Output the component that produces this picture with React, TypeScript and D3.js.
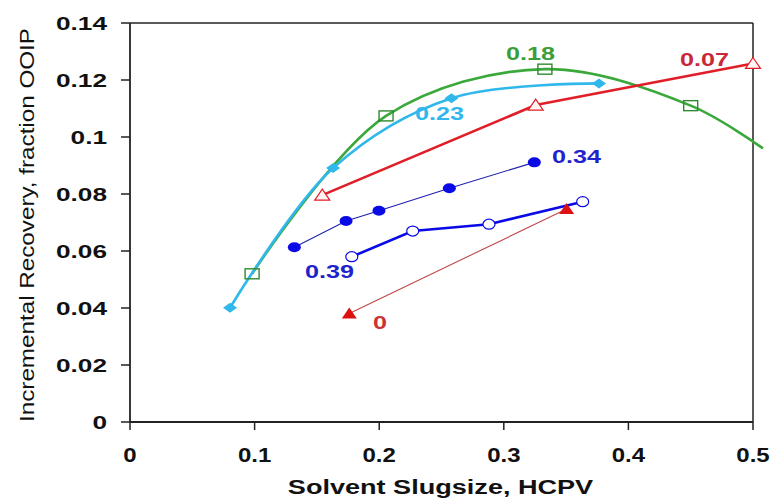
import React from "react";
import * as d3 from "d3";

const xTicks = [0, 0.1, 0.2, 0.3, 0.4, 0.5];
const xTickLabels = ["0", "0.1", "0.2", "0.3", "0.4", "0.5"];
const yTicks = [0, 0.02, 0.04, 0.06, 0.08, 0.1, 0.12, 0.14];
const yTickLabels = ["0", "0.02", "0.04", "0.06", "0.08", "0.1", "0.12", "0.14"];

// series "0.18" (green squares, smooth trend)
const s018X = [0.098, 0.2055, 0.333, 0.45];
const s018Y = [0.052, 0.1074, 0.1238, 0.111];
const s018TrendX = [0.098, 0.2055, 0.333, 0.45, 0.508];
const s018TrendY = [0.052, 0.1074, 0.1238, 0.111, 0.096];
// series "0.23" (cyan diamonds)
const s023X = [0.0803, 0.163, 0.258, 0.3764];
const s023Y = [0.0401, 0.0891, 0.1136, 0.1188];
// series "0.07" (red open triangles)
const s007X = [0.1543, 0.3256, 0.5];
const s007Y = [0.0796, 0.1112, 0.1258];
// series "0.34" (blue filled circles)
const s034X = [0.1319, 0.1734, 0.1998, 0.2563, 0.3245];
const s034Y = [0.0613, 0.0705, 0.0741, 0.082, 0.0911];
// series "0.39" (blue open circles)
const s039X = [0.178, 0.2269, 0.2881, 0.3633];
const s039Y = [0.058, 0.067, 0.0694, 0.0773];
// series "0" (red filled triangles)
const s0X = [0.176, 0.3504];
const s0Y = [0.0381, 0.0747];

const W = 773, H = 504;
const L = 130, R = 753, T = 23, B = 422;

const FONT = "'Liberation Sans', Arial, sans-serif";

const zip = (xs: number[], ys: number[]) => xs.map((x, i) => [x, ys[i]] as [number, number]);

function STxt(props: { x: number; y: number; sx: number; size: number; anchor?: string; fill?: string; weight?: string; children: any }) {
  const { x, y, sx, size, anchor = "start", fill = "#111", weight = "bold", children } = props;
  return (
    <text transform={`translate(${x},${y}) scale(${sx},1)`} textAnchor={anchor as any} fontFamily={FONT} fontSize={size} fontWeight={weight} fill={fill}>
      {children}
    </text>
  );
}

export default function App() {
  const x = d3.scaleLinear().domain([0, 0.5]).range([L, R]);
  const y = d3.scaleLinear().domain([0, 0.14]).range([B, T]);
  const smooth = d3.line<[number, number]>().x(d => x(d[0])).y(d => y(d[1])).curve(d3.curveCatmullRom.alpha(0.5));
  const straight = d3.line<[number, number]>().x(d => x(d[0])).y(d => y(d[1]));

  const green = "#3aa83a";
  const cyan = "#30b8ec";
  const red = "#e01e28";
  const blue = "#0a0ae6";

  return (
    <svg width={W} height={H} style={{ position: "absolute", left: 0, top: 0, background: "#fff" }}>
      <rect x={0} y={0} width={W} height={H} fill="#fff" />
      {/* frame */}
      <line x1={L} y1={T} x2={R} y2={T} stroke="#222" strokeWidth={1.5} />
      <line x1={R} y1={T} x2={R} y2={B} stroke="#222" strokeWidth={1.5} />
      <line x1={L} y1={T} x2={L} y2={B} stroke="#222" strokeWidth={1.8} />
      <line x1={L} y1={B} x2={R} y2={B} stroke="#222" strokeWidth={1.8} />
      {yTicks.map((t, i) => (
        <g key={"yt" + i}>
          <line x1={L - 9} x2={L} y1={y(t)} y2={y(t)} stroke="#222" strokeWidth={1.5} />
          <STxt x={107} y={y(t) + 6.5} sx={1.38} size={19} anchor="end">{yTickLabels[i]}</STxt>
        </g>
      ))}
      {xTicks.map((t, i) => (
        <g key={"xt" + i}>
          <line x1={x(t)} x2={x(t)} y1={B} y2={B + 8} stroke="#222" strokeWidth={1.5} />
          <STxt x={x(t)} y={462} sx={1.2} size={20} anchor="middle">{xTickLabels[i]}</STxt>
        </g>
      ))}
      <STxt x={440.5} y={494} sx={1.29} size={21} anchor="middle">Solvent Slugsize, HCPV</STxt>
      <text transform={`translate(34,225) rotate(-90)`} textAnchor="middle" fontFamily={FONT} fontSize={20} fill="#111" textLength={394} lengthAdjust="spacingAndGlyphs">
        Incremental Recovery, fraction OOIP
      </text>

      {/* lines */}
      <path d={smooth(zip(s018TrendX, s018TrendY)) || ""} fill="none" stroke={green} strokeWidth={2.6} />
      <path d={smooth(zip(s023X, s023Y)) || ""} fill="none" stroke={cyan} strokeWidth={2.6} />
      <path d={straight(zip(s007X, s007Y)) || ""} fill="none" stroke={red} strokeWidth={2.6} />
      <path d={straight(zip(s034X, s034Y)) || ""} fill="none" stroke="#2020b0" strokeWidth={1.1} />
      <path d={straight(zip(s039X, s039Y)) || ""} fill="none" stroke={blue} strokeWidth={2.6} />
      <path d={straight(zip(s0X, s0Y)) || ""} fill="none" stroke="#c04848" strokeWidth={1.1} />

      {/* markers */}
      {zip(s018X, s018Y).map((d, i) => (
        <rect key={"g" + i} x={x(d[0]) - 7} y={y(d[1]) - 5} width={14} height={10} fill="none" stroke="#2f8a2f" strokeWidth={1.4} />
      ))}
      {zip(s023X, s023Y).map((d, i) => (
        <path key={"c" + i} transform={`translate(${x(d[0])},${y(d[1])})`} d="M0,-5L7,0L0,5L-7,0Z" fill={cyan} />
      ))}
      {zip(s007X, s007Y).map((d, i) => (
        <path key={"r" + i} transform={`translate(${x(d[0])},${y(d[1])})`} d="M0,-6L7.5,5L-7.5,5Z" fill="#fff5f5" stroke={red} strokeWidth={1.2} />
      ))}
      {zip(s034X, s034Y).map((d, i) => (
        <ellipse key={"b" + i} cx={x(d[0])} cy={y(d[1])} rx={6.5} ry={5} fill={blue} />
      ))}
      {zip(s039X, s039Y).map((d, i) => (
        <ellipse key={"o" + i} cx={x(d[0])} cy={y(d[1])} rx={6} ry={5} fill="#fff" stroke={blue} strokeWidth={1.2} />
      ))}
      {zip(s0X, s0Y).map((d, i) => (
        <path key={"t" + i} transform={`translate(${x(d[0])},${y(d[1])})`} d="M0,-6L7.5,5L-7.5,5Z" fill="#dd1111" />
      ))}

      {/* series labels */}
      <STxt x={506} y={60} sx={1.4} size={18} fill="#3a9e3a">0.18</STxt>
      <STxt x={680} y={66} sx={1.4} size={18} fill="#c8283a">0.07</STxt>
      <STxt x={415} y={120} sx={1.4} size={18} fill={cyan}>0.23</STxt>
      <STxt x={552} y={163} sx={1.4} size={18} fill="#2222cc">0.34</STxt>
      <STxt x={305} y={278} sx={1.4} size={18} fill="#2222cc">0.39</STxt>
      <STxt x={373} y={329} sx={1.4} size={18} fill="#cc3333">0</STxt>
    </svg>
  );
}
